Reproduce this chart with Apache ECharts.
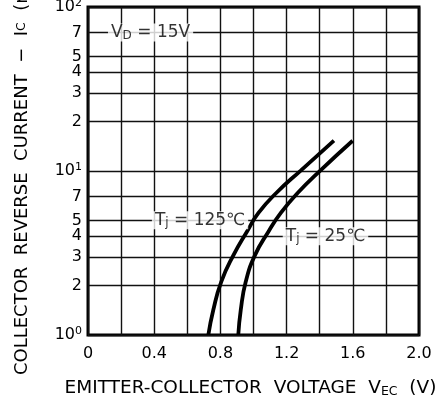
<!DOCTYPE html>
<html><head><meta charset="utf-8">
<script src="https://cdn.jsdelivr.net/npm/echarts@6/dist/echarts.min.js"></script>
<style>html,body{margin:0;padding:0;background:#fff}#c{width:448px;height:400px}</style>
</head><body><div id="c"></div>
<script>
// Data
var tj125X = [0.727, 0.757, 0.805, 0.879, 0.961, 1.030, 1.139, 1.287, 1.486];
var tj125Y = [1, 1.42, 2.11, 3.07, 4.28, 5.55, 7.37, 10.1, 15.3];
var tj25X = [0.908, 0.923, 0.953, 1.009, 1.091, 1.165, 1.268, 1.405, 1.599];
var tj25Y = [1, 1.42, 2.11, 3.07, 4.28, 5.55, 7.37, 10.1, 15.3];
var xTickLabels = ['0', '0.4', '0.8', '1.2', '1.6', '2.0'];
var minorGridValues = [2, 3, 4, 5, 7, 20, 30, 40, 50, 70];
var minorGridLabels = ['2', '3', '4', '5', '7', '2', '3', '4', '5', '7'];
var annotations = [
  {text: 'V{s|D} = 15V', x: 0.378, y: 70},
  {text: 'T{s|j} = 125℃', x: 0.677, y: 5},
  {text: 'T{s|j} = 25℃', x: 1.435, y: 4}
];

function pairs(xs, ys) { return xs.map(function (x, i) { return [x, ys[i]]; }); }
var FONT = 'DejaVu Sans';
var chart = echarts.init(document.getElementById('c'), null, {renderer: 'canvas'});
chart.setOption({
  animation: false,
  backgroundColor: '#fff',
  grid: {left: 88, right: 29, top: 7, bottom: 65, show: true, borderColor: '#000', borderWidth: 3,
    backgroundColor: 'transparent', containLabel: false, outerBoundsMode: 'none'},
  xAxis: {
    type: 'value', min: 0, max: 2, interval: 0.2,
    axisLine: {show: false}, axisTick: {show: false},
    splitLine: {show: true, lineStyle: {color: '#111', width: 1.4}},
    axisLabel: {
      color: '#000', fontFamily: FONT, fontSize: 16, margin: 11,
      formatter: function (v) {
        var k = v / 0.4, r = Math.round(k);
        return Math.abs(k - r) < 1e-6 ? xTickLabels[r] : '';
      }
    },
    name: 'EMITTER-COLLECTOR  VOLTAGE  V{s|EC}  (V)',
    nameLocation: 'middle', nameGap: 44,
    nameTextStyle: {color: '#000', fontFamily: FONT, fontSize: 18.5, padding: [0, 6, 0, 0], rich: {s: {fontSize: 12.5, color: '#000', fontFamily: FONT, verticalAlign: 'bottom', padding: [5, 0, 0, 0]}}}
  },
  yAxis: {
    type: 'log', logBase: 10, min: 1, max: 100,
    axisLine: {show: false}, axisTick: {show: false},
    splitLine: {show: true, lineStyle: {color: '#111', width: 1.4}},
    minorSplitLine: {show: false},
    axisLabel: {
      color: '#000', fontFamily: FONT, fontSize: 16, margin: 6,
      formatter: function (v) { return '10{p|' + Math.round(Math.log10(v)) + '}'; },
      rich: {p: {fontSize: 11, color: '#000', fontFamily: FONT, verticalAlign: 'top', padding: [0, 0, 8, 0]}}
    },
    name: 'COLLECTOR  REVERSE  CURRENT  −  I{s|C}  (mA)',
    nameLocation: 'middle', nameGap: 57, nameRotate: 90,
    nameTextStyle: {color: '#000', fontFamily: FONT, fontSize: 18, rich: {s: {fontSize: 12.5, color: '#000', fontFamily: FONT}}}
  },
  series: [
    {
      type: 'line', data: pairs(tj125X, tj125Y), smooth: 0.5, symbol: 'none',
      lineStyle: {color: '#000', width: 3.8}, z: 5,
      markLine: {
        silent: true, symbol: 'none',
        lineStyle: {color: '#111', width: 1.4, type: 'solid'},
        label: {show: true, position: 'start', distance: 6, color: '#000', fontFamily: FONT, fontSize: 16,
          formatter: function (p) { return minorGridLabels[p.dataIndex]; }},
        data: minorGridValues.map(function (v) { return {yAxis: v}; })
      }
    },
    {
      type: 'line', data: pairs(tj25X, tj25Y), smooth: 0.5, symbol: 'none',
      lineStyle: {color: '#000', width: 3.8}, z: 5
    },
    {
      type: 'scatter', symbolSize: 0, z: 10, silent: true,
      data: annotations.map(function (a) { return {value: [a.x, a.y], name: a.text}; }),
      label: {
        show: true, position: 'inside', color: '#000', fontFamily: FONT, fontSize: 17,
        backgroundColor: '#fff', padding: [0, 3, 0, 3],
        formatter: function (p) { return p.name; },
        rich: {s: {fontSize: 12, color: '#000', fontFamily: FONT, verticalAlign: 'bottom', padding: [6, 0, 0, 0]}}
      }
    }
  ]
});
</script></body></html>
